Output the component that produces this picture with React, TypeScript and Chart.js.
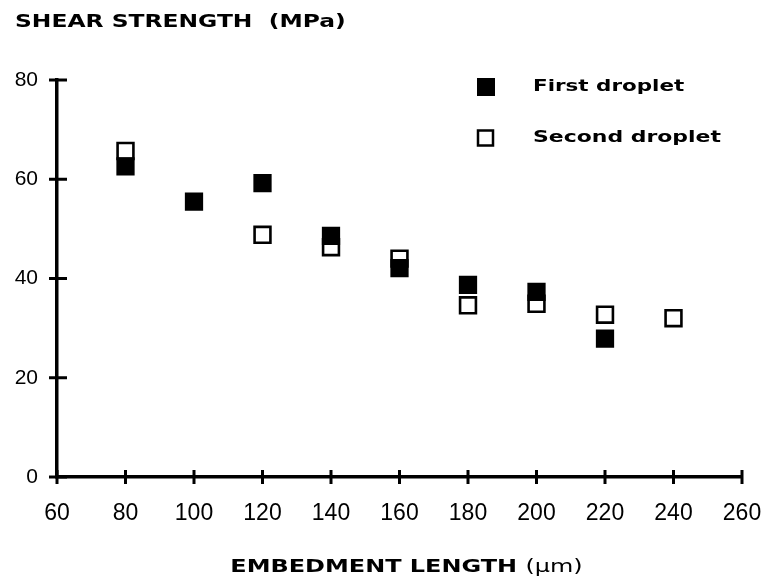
import React, { useEffect, useRef } from "react";
import { Chart, registerables } from "chart.js";

Chart.register(...registerables);

// ---- data ----
const firstLength = [80, 100, 120, 140, 160, 180, 200, 220];
const firstStrength = [62.6, 55.5, 59.2, 48.6, 42.1, 38.7, 37.3, 27.9];
const secondLength = [80, 120, 140, 160, 180, 200, 220, 240];
const secondStrength = [65.7, 48.8, 46.3, 44.0, 34.6, 34.9, 32.7, 32.0];
const xTickValues = [60, 80, 100, 120, 140, 160, 180, 200, 220, 240, 260];
const yTickValues = [0, 20, 40, 60, 80];
const seriesNames = ["First droplet", "Second droplet"];
const yTitle = "SHEAR STRENGTH  (MPa)";
const xTitleMain = "EMBEDMENT LENGTH ";
const xTitleUnit = "(\u03bcm)";

const BOLD = 'bold 18px "DejaVu Sans"';
const REG = '18px "DejaVu Sans"';

function drawStretched(
  ctx: CanvasRenderingContext2D,
  text: string,
  x: number,
  y: number,
  font: string,
  sx: number
) {
  ctx.save();
  ctx.font = font;
  ctx.fillStyle = "#000";
  ctx.textBaseline = "middle";
  ctx.textAlign = "left";
  ctx.translate(x, y);
  ctx.scale(sx, 1);
  ctx.fillText(text, 0, 0);
  ctx.restore();
}

const decorPlugin = {
  id: "decor",
  afterDraw(chart: any) {
    const ctx: CanvasRenderingContext2D = chart.ctx;
    const { left, bottom, right } = chart.chartArea;
    const xs = chart.scales.x;
    const ys = chart.scales.y;

    // crossing tick marks
    ctx.save();
    ctx.strokeStyle = "#000";
    ctx.lineWidth = 3;
    ctx.lineCap = "butt";
    ys.ticks.forEach((t: any) => {
      const py = ys.getPixelForValue(t.value);
      ctx.beginPath();
      ctx.moveTo(left - 8, py);
      ctx.lineTo(left + 10, py);
      ctx.stroke();
    });
    xs.ticks.forEach((t: any) => {
      const px = xs.getPixelForValue(t.value);
      ctx.beginPath();
      ctx.moveTo(px, bottom - 7);
      ctx.lineTo(px, bottom + 7);
      ctx.stroke();
    });
    ctx.restore();

    // y title (top-left, horizontal)
    drawStretched(ctx, yTitle, 15, 22, BOLD, 1.3);

    // x title
    ctx.save();
    ctx.font = BOLD;
    const sx = 1.33;
    const w1 = ctx.measureText(xTitleMain).width * sx;
    ctx.font = REG;
    const w2 = ctx.measureText(xTitleUnit).width * sx;
    ctx.restore();
    const cx = (left + right) / 2 + 7;
    const startX = cx - (w1 + w2) / 2;
    drawStretched(ctx, xTitleMain, startX, 567, BOLD, sx);
    drawStretched(ctx, xTitleUnit, startX + w1, 567, REG, sx);

    // legend
    ctx.save();
    ctx.fillStyle = "#000";
    ctx.fillRect(477, 78, 18, 18);
    ctx.strokeStyle = "#000";
    ctx.lineWidth = 2.5;
    ctx.strokeRect(478, 130.5, 15, 15);
    ctx.restore();
    drawStretched(ctx, seriesNames[0], 533, 87, 'bold 16.5px "DejaVu Sans"', 1.3);
    drawStretched(ctx, seriesNames[1], 533, 138, 'bold 16.5px "DejaVu Sans"', 1.33);
  },
};

export default function App() {
  const canvasRef = useRef<HTMLCanvasElement | null>(null);

  useEffect(() => {
    if (!canvasRef.current) return;
    const chart = new Chart(canvasRef.current, {
      type: "scatter",
      data: {
        datasets: [
          {
            label: seriesNames[0],
            data: firstLength.map((x, i) => ({ x, y: firstStrength[i] })),
            pointStyle: "rect",
            pointRadius: 11.5,
            pointBorderWidth: 2,
            backgroundColor: "#000",
            borderColor: "#000",
          },
          {
            label: seriesNames[1],
            data: secondLength.map((x, i) => ({ x, y: secondStrength[i] })),
            pointStyle: "rect",
            pointRadius: 11.2,
            pointBorderWidth: 2.6,
            backgroundColor: "#fff",
            borderColor: "#000",
          },
        ],
      },
      options: {
        responsive: false,
        animation: false,
        layout: { padding: { top: 80, right: 0, left: 0, bottom: 0 } },
        plugins: {
          legend: { display: false },
          title: { display: false },
          tooltip: { enabled: false },
        },
        scales: {
          x: {
            type: "linear",
            min: 60,
            max: 260,
            afterBuildTicks: (s: any) => {
              s.ticks = xTickValues.map((v) => ({ value: v }));
            },
            afterFit: (s: any) => {
              s.height = 107;
              s.paddingLeft = 0;
              s.paddingRight = 23;
            },
            grid: { display: false, drawTicks: false },
            border: { display: true, width: 3.5, color: "#000" },
            ticks: {
              color: "#000",
              padding: 23,
              maxRotation: 0,
              font: { family: '"Liberation Sans"', size: 23 },
            },
          },
          y: {
            type: "linear",
            min: 0,
            max: 80,
            afterBuildTicks: (s: any) => {
              s.ticks = yTickValues.map((v) => ({ value: v }));
            },
            afterFit: (s: any) => {
              s.width = 57;
            },
            grid: { display: false, drawTicks: false },
            border: { display: true, width: 3.5, color: "#000" },
            ticks: {
              color: "#000",
              padding: 19,
              font: { family: '"Liberation Sans"', size: 21 },
            },
          },
        },
      },
      plugins: [decorPlugin],
    });
    return () => chart.destroy();
  }, []);

  return (
    <div style={{ position: "absolute", left: 0, top: 0, width: 765, height: 584, background: "#fff" }}>
      <canvas ref={canvasRef} width={765} height={584} style={{ display: "block" }} />
    </div>
  );
}
